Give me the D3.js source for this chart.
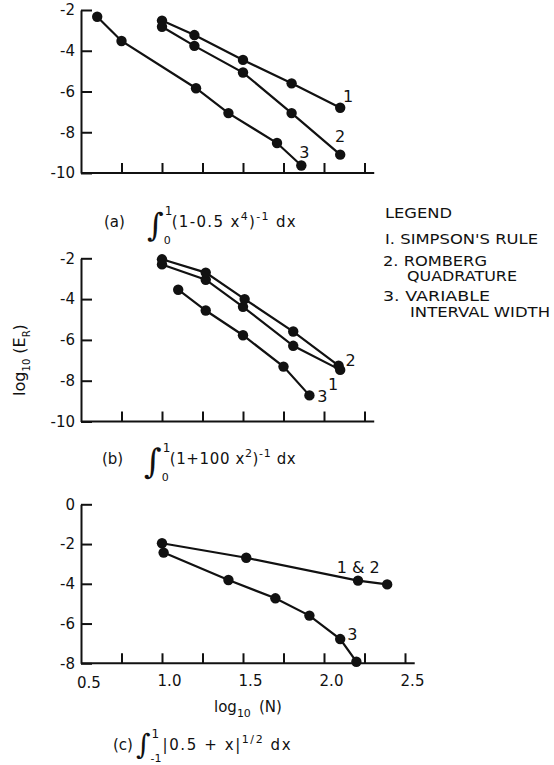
<!DOCTYPE html>
<html>
<head>
<meta charset="utf-8">
<script src="https://cdn.jsdelivr.net/npm/d3@7"></script>
<style>
  body { margin: 0; background: #fff; }
  text { font-family: "DejaVu Sans", sans-serif; fill: #111; }
</style>
</head>
<body>
<script>
// chart size
const width = 554;
const height = 765;

// data: x = log10(N), y = log10(E_R)
// panel (a)
const aSimpsonX = [1.0, 1.2, 1.5, 1.8, 2.1];
const aSimpsonY = [-2.52, -3.23, -4.45, -5.6, -6.8];
const aRombergX = [1.0, 1.2, 1.5, 1.8, 2.1];
const aRombergY = [-2.82, -3.76, -5.07, -7.06, -9.1];
const aVariableX = [0.6, 0.75, 1.21, 1.41, 1.71, 1.86];
const aVariableY = [-2.33, -3.52, -5.84, -7.06, -8.53, -9.63];
// panel (b)
const bSimpsonX = [1.0, 1.27, 1.5, 1.81, 2.1];
const bSimpsonY = [-2.3, -3.05, -4.38, -6.29, -7.47];
const bRombergX = [1.0, 1.27, 1.51, 1.81, 2.09];
const bRombergY = [-2.05, -2.7, -4.0, -5.59, -7.26];
const bVariableX = [1.1, 1.27, 1.5, 1.75, 1.91];
const bVariableY = [-3.54, -4.56, -5.77, -7.31, -8.72];
// panel (c)
const cBothX = [1.0, 1.52, 2.21, 2.39];
const cBothY = [-1.96, -2.69, -3.84, -4.03];
const cVariableX = [1.01, 1.41, 1.7, 1.91, 2.1, 2.2];
const cVariableY = [-2.43, -3.81, -4.73, -5.6, -6.78, -7.92];

// tick labels
const xTicksMinor = [0.75, 1.0, 1.25, 1.5, 1.75, 2.0, 2.25, 2.5];
const xTickLabels = [0.5, 1.0, 1.5, 2.0, 2.5];
const yTicksAB = [-2, -4, -6, -8, -10];
const yTicksC = [0, -2, -4, -6, -8];

const legendLines = ["LEGEND", "I. SIMPSON'S RULE", "2. ROMBERG", "QUADRATURE", "3. VARIABLE", "INTERVAL WIDTH"];

const svg = d3.select("body")
    .append("svg")
    .attr("width", width)
    .attr("height", height);

const xScale = d3.scaleLinear()
    .domain([0.5, 2.5])
    .range([81, 405]);

const line = d3.line();

function drawPanel(top, bottom, yDomain, yTicks, xEnd, series, showXLabels) {
    const yScale = d3.scaleLinear()
        .domain(yDomain)
        .range([top, bottom]);

    // y axis, ticks pointing inward
    const leftAxis = d3.axisLeft(yScale)
        .tickValues(yTicks)
        .tickSizeInner(-11)
        .tickSizeOuter(0)
        .tickPadding(6)
        .tickFormat(d => d3.format("d")(d).replace("−", "-"));
    const gy = svg.append("g")
        .attr("transform", "translate(" + xScale(0.5) + ",0)")
        .call(leftAxis);

    // x axis
    const ticks = xTicksMinor.filter(t => t <= xEnd + 1e-9);
    const bottomAxis = d3.axisBottom(xScale)
        .tickValues(ticks)
        .tickSizeInner(-10)
        .tickSizeOuter(0)
        .tickPadding(12)
        .tickFormat(d => (showXLabels && xTickLabels.includes(d)) ? d3.format(".1f")(d) : "");
    const gx = svg.append("g")
        .attr("transform", "translate(0," + bottom + ")")
        .call(bottomAxis);

    const xr = xScale.range();
    gx.select(".domain").attr("d", "M" + xr[0] + ",0H" + xScale(xEnd + 0.06));

    [gx, gy].forEach(g => {
        g.select(".domain").attr("stroke", "#111").attr("stroke-width", 2);
        g.selectAll(".tick line").attr("stroke", "#111").attr("stroke-width", 2);
        g.selectAll(".tick text").style("font-size", "15px").attr("fill", "#111");
    });
    gx.selectAll(".tick text").attr("dx", 7);

    // 0.5 label sits at the corner
    if (showXLabels) {
        svg.append("text")
            .attr("x", xScale(0.5) + 8)
            .attr("y", bottom + 25)
            .attr("text-anchor", "middle")
            .style("font-size", "15px")
            .text("0.5");
    }

    series.forEach(s => {
        const pts = s.x.map((v, i) => [xScale(v), yScale(s.y[i])]);
        svg.append("path")
            .attr("d", line(pts))
            .attr("fill", "none")
            .attr("stroke", "#111")
            .attr("stroke-width", 2.2);
        svg.selectAll(null)
            .data(pts)
            .enter()
            .append("circle")
            .attr("cx", d => d[0])
            .attr("cy", d => d[1])
            .attr("r", 5.2)
            .attr("fill", "#111");
        const last = pts[pts.length - 1];
        svg.append("text")
            .attr("x", last[0] + s.dx)
            .attr("y", last[1] + s.dy)
            .attr("text-anchor", "middle")
            .style("font-size", "16px")
            .text(s.label);
    });
}

drawPanel(10, 173, [-2, -10], yTicksAB, 2.25, [
    {x: aSimpsonX, y: aSimpsonY, label: "1", dx: 8, dy: -6},
    {x: aRombergX, y: aRombergY, label: "2", dx: 0, dy: -13},
    {x: aVariableX, y: aVariableY, label: "3", dx: 3, dy: -7}
], false);

drawPanel(258.3, 421.5, [-2, -10], yTicksAB, 2.25, [
    {x: bSimpsonX, y: bSimpsonY, label: "1", dx: -7, dy: 20},
    {x: bRombergX, y: bRombergY, label: "2", dx: 12, dy: 0},
    {x: bVariableX, y: bVariableY, label: "3", dx: 13, dy: 7}
], false);

drawPanel(504.3, 663.3, [0, -8], yTicksC, 2.5, [
    {x: cBothX, y: cBothY, label: "1 & 2", dx: -29, dy: -11},
    {x: cVariableX, y: cVariableY, label: "3", dx: -4, dy: -22}
], true);

// y axis title
svg.append("text")
    .attr("transform", "translate(25,360) rotate(-90)")
    .attr("text-anchor", "middle")
    .style("font-size", "16px")
    .html('log<tspan dy="5" font-size="10">10</tspan><tspan dy="-5"> (E</tspan><tspan dy="5" font-size="10">R</tspan><tspan dy="-5">)</tspan>');

// x axis title
svg.append("text")
    .attr("x", 214)
    .attr("y", 712)
    .style("font-size", "15px")
    .html('log<tspan dy="5" font-size="11">10</tspan><tspan dy="-5" dx="8">(N)</tspan>');

// captions with integrals
function caption(c) {
    svg.append("text")
        .attr("x", c.tagX)
        .attr("y", c.base)
        .style("font-size", "15px")
        .text(c.tag);
    const sign = svg.append("text")
        .attr("x", c.intX)
        .attr("y", c.base + c.intDy)
        .style("font-size", c.intSize + "px")
        .style("font-family", "DejaVu Serif, serif")
        .text("\u222B");
    const signRight = c.intX + sign.node().getComputedTextLength();
    const limX = Math.max(c.limX, signRight + 1);
    svg.append("text")
        .attr("x", limX)
        .attr("y", c.base - 12)
        .style("font-size", "12px")
        .text(c.upper);
    const low = svg.append("text")
        .attr("x", limX - 1)
        .attr("y", c.lowY)
        .style("font-size", "11px")
        .text(c.lower);
    const lowRight = limX - 1 + low.node().getComputedTextLength();
    svg.append("text")
        .attr("x", Math.max(c.bodyX, lowRight + 1))
        .attr("y", c.base)
        .attr("textLength", c.bodyLen)
        .attr("lengthAdjust", "spacing")
        .style("font-size", "15px")
        .html(c.body);
}

caption({tag: "(a)", tagX: 104, intX: 147, intSize: 32, intDy: 9, limX: 160, bodyX: 168, bodyLen: 124, base: 227, lowY: 244,
    lower: "0", upper: "1",
    body: '(1-0.5 x<tspan dy="-7" font-size="11">4</tspan><tspan dy="7">)</tspan><tspan dy="-7" font-size="11">-1</tspan><tspan dy="7"> dx</tspan>'});
caption({tag: "(b)", tagX: 102, intX: 144, intSize: 34, intDy: 9, limX: 157, bodyX: 166, bodyLen: 126, base: 464, lowY: 481,
    lower: "0", upper: "1",
    body: '(1+100 x<tspan dy="-7" font-size="11">2</tspan><tspan dy="7">)</tspan><tspan dy="-7" font-size="11">-1</tspan><tspan dy="7"> dx</tspan>'});
caption({tag: "(c)", tagX: 113, intX: 136, intSize: 28, intDy: 4, limX: 149, bodyX: 160, bodyLen: 128, base: 750, lowY: 762,
    lower: "-1", upper: "1",
    body: '|0.5 + x|<tspan dy="-7" font-size="11">1/2</tspan><tspan dy="7"> dx</tspan>'});

// legend
const legendPos = [
    [385, 218, 67], [385, 244, 153], [383, 266, 104],
    [407, 281, 110], [383, 301, 107], [410, 317, 140]
];
svg.selectAll(".legend")
    .data(legendLines)
    .enter()
    .append("text")
    .attr("class", "legend")
    .attr("x", (d, i) => legendPos[i][0])
    .attr("y", (d, i) => legendPos[i][1])
    .attr("textLength", (d, i) => legendPos[i][2])
    .attr("lengthAdjust", "spacingAndGlyphs")
    .style("font-size", "14px")
    .text(d => d);
</script>
</body>
</html>
